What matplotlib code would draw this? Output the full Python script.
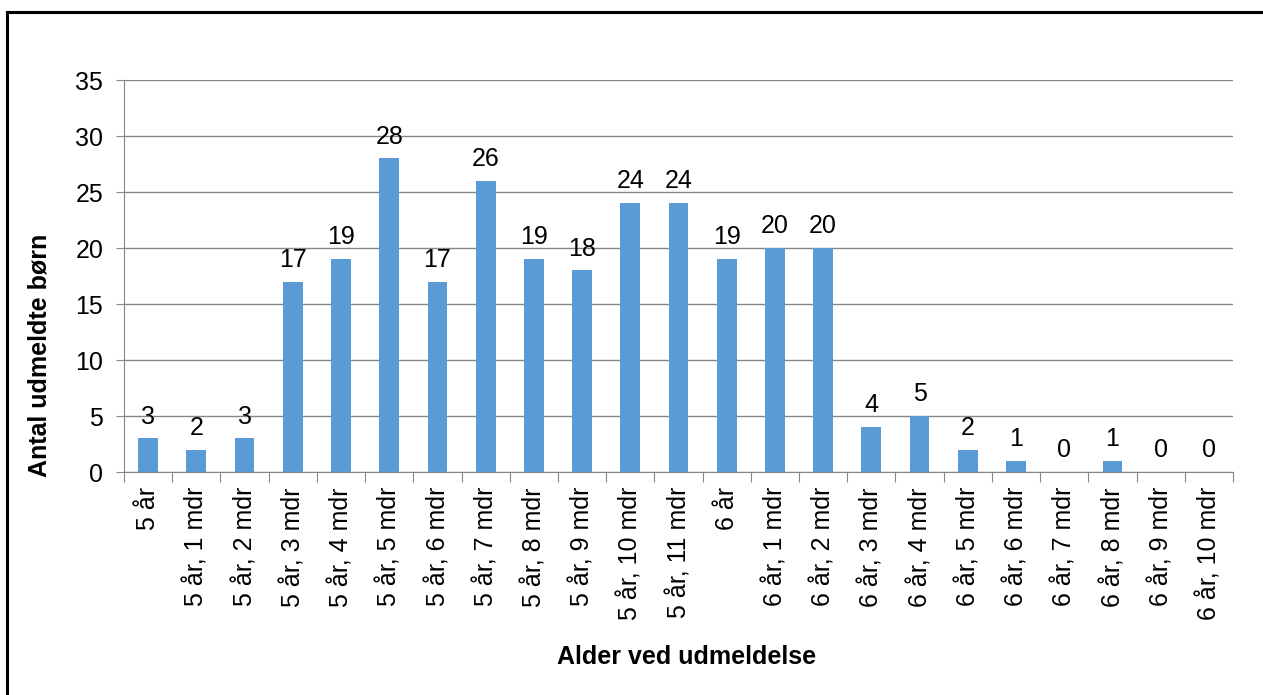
import matplotlib.pyplot as plt
from matplotlib.lines import Line2D

plt.rcParams['font.family'] = ['Liberation Sans', 'DejaVu Sans']

# data
categories = ['5 år', '5 år, 1 mdr', '5 år, 2 mdr', '5 år, 3 mdr', '5 år, 4 mdr',
              '5 år, 5 mdr', '5 år, 6 mdr', '5 år, 7 mdr', '5 år, 8 mdr', '5 år, 9 mdr',
              '5 år, 10 mdr', '5 år, 11 mdr', '6 år', '6 år, 1 mdr', '6 år, 2 mdr',
              '6 år, 3 mdr', '6 år, 4 mdr', '6 år, 5 mdr', '6 år, 6 mdr', '6 år, 7 mdr',
              '6 år, 8 mdr', '6 år, 9 mdr', '6 år, 10 mdr']
values = [3, 2, 3, 17, 19, 28, 17, 26, 19, 18, 24, 24,
          19, 20, 20, 4, 5, 2, 1, 0, 1, 0, 0]
yticks = [0, 5, 10, 15, 20, 25, 30, 35]

fs = 18

fig = plt.figure(figsize=(12.63, 6.95), dpi=100)
ax = fig.add_axes([124/1263, 1-472/695, (1233-124)/1263, (472-80)/695])

x = range(len(categories))
ax.bar(x, values, width=0.41, color='#5B9BD5', zorder=3)
for xi, v in zip(x, values):
    ax.annotate(str(v), (xi, v), xytext=(0, 7), textcoords='offset points',
                ha='center', va='bottom', fontsize=fs)

ax.set_xlim(-0.5, len(categories) - 0.5)
ax.set_ylim(0, 35)
ax.set_yticks(yticks)
ax.tick_params(axis='y', labelsize=fs, length=6, color='#868686', pad=9)
ax.yaxis.grid(True, color='#868686', linewidth=1)
ax.set_axisbelow(True)

# category labels below, ticks between categories
ax.set_xticks([i - 0.5 for i in range(len(categories) + 1)])
ax.set_xticklabels([])
ax.tick_params(axis='x', length=7, color='#868686')
for xi, lab in zip(x, categories):
    ax.text(xi, -1.35, lab, rotation=90, ha='center', va='top', fontsize=fs)

for s in ['top', 'right']:
    ax.spines[s].set_visible(False)
ax.spines['left'].set_color('#868686')
ax.spines['bottom'].set_color('#868686')

fig.text(40/1263, 1-355/695, 'Antal udmeldte børn', rotation=90, ha='center', va='center',
         fontsize=fs, fontweight='bold')
fig.text(687/1263, 1-657/695, 'Alder ved udmeldelse', ha='center', va='center',
         fontsize=fs, fontweight='bold')

# outer frame (only top and left visible)
fig.add_artist(Line2D([7/1263, 1], [1-12/695, 1-12/695], color='black', linewidth=2.2))
fig.add_artist(Line2D([7/1263, 7/1263], [0, 1-12/695], color='black', linewidth=2.2))

fig.savefig('out.png', dpi=100)
